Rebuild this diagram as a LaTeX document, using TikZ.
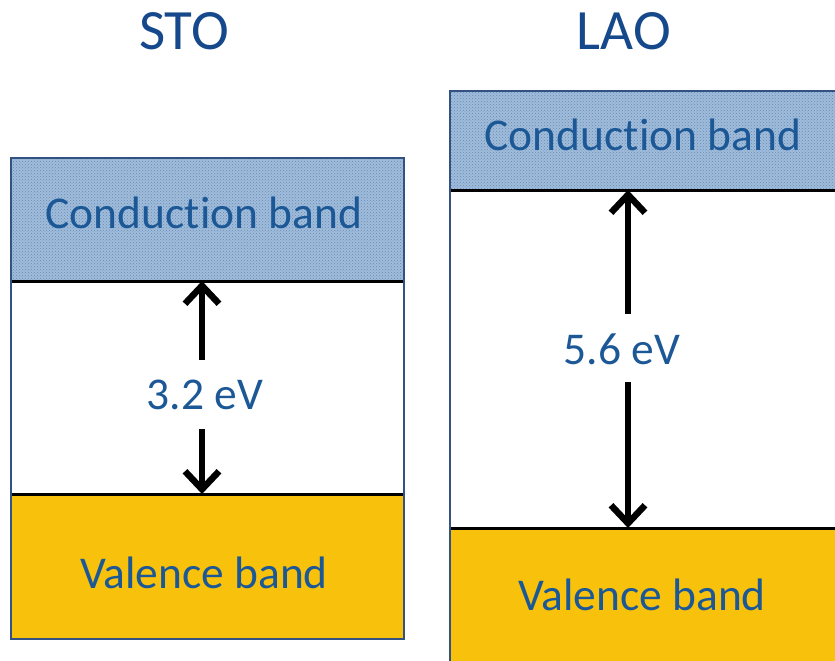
\documentclass[tikz,border=0pt]{standalone}
\usepackage{fontspec}
\setmainfont[Ligatures=NoCommon]{Carlito}
\usetikzlibrary{arrows.meta,patterns}
\definecolor{titleblue}{RGB}{22,72,140}
\definecolor{labelblue}{RGB}{28,88,150}
\definecolor{cbfill}{RGB}{160,188,218}
\definecolor{cbdot}{RGB}{100,140,185}
\definecolor{vbfill}{RGB}{248,194,12}
\definecolor{edgeblue}{RGB}{50,82,130}
\tikzset{
  title/.style={font=\fontsize{57}{60}\selectfont, text=titleblue, anchor=base, inner sep=0pt},
  bandlabel/.style={font=\fontsize{45.5}{48}\selectfont, text=labelblue, anchor=base, inner sep=0pt},
  cband/.style={fill=cbfill, postaction={pattern=crosshatch dots, pattern color=cbdot}},
  vband/.style={fill=vbfill},
  outline/.style={draw=edgeblue, line width=2.6pt},
  bandedge/.style={draw=black, line width=3pt},
  gaparrow/.style={line width=6.5pt, -{Straight Barb[length=18pt,width=34pt]}},
}
\begin{document}
\begin{tikzpicture}[x=1pt,y=-1pt]
\useasboundingbox (0,0) rectangle (835,661);
\clip (0,0) rectangle (835,661);
% ---------- STO ----------
\node[title] (stoT) at (184,50) {STO};
\path[cband] (11,158) rectangle (404,281);
\path[vband] (11,494) rectangle (404,639);
\draw[bandedge] (11,281) -- (404,281);
\draw[bandedge] (11,494) -- (404,494);
\draw[outline] (11,158) rectangle (404,639);
\node[bandlabel] (stoCB) at (204,228) {Conduction band};
\node[bandlabel] (stoVB) at (204,588) {Valence band};
\node[bandlabel] (stoGap) at (205,409) {3.2 eV};
\coordinate (stoUpS) at (202,360);
\coordinate (stoUpE) at (202,281);
\coordinate (stoDnS) at (202,429);
\coordinate (stoDnE) at (202,494);
\draw[gaparrow] (stoUpS) -- (stoUpE);
\draw[gaparrow] (stoDnS) -- (stoDnE);
% ---------- LAO ----------
\node[title] (laoT) at (624,50) {LAO};
\path[cband] (450,91) rectangle (840,190);
\path[vband] (450,528) rectangle (840,670);
\draw[bandedge] (450,190) -- (840,190);
\draw[bandedge] (450,528) -- (840,528);
\draw[outline] (450,91) rectangle (840,670);
\node[bandlabel] (laoCB) at (643,150) {Conduction band};
\node[bandlabel] (laoVB) at (642,610) {Valence band};
\node[bandlabel] (laoGap) at (622,364) {5.6 eV};
\coordinate (laoUpS) at (628,314);
\coordinate (laoUpE) at (628,190);
\coordinate (laoDnS) at (628,382);
\coordinate (laoDnE) at (628,528);
\draw[gaparrow] (laoUpS) -- (laoUpE);
\draw[gaparrow] (laoDnS) -- (laoDnE);
\end{tikzpicture}
\end{document}
